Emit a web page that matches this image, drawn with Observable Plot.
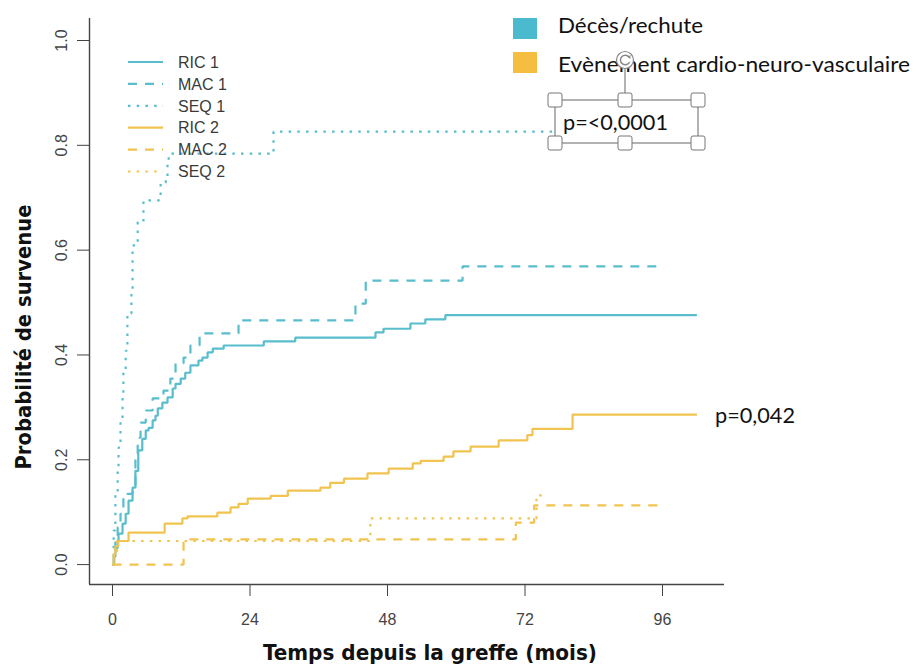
<!DOCTYPE html>
<html><head><meta charset="utf-8">
<script src="https://cdn.jsdelivr.net/npm/d3@7"></script>
<script src="https://cdn.jsdelivr.net/npm/@observablehq/plot@0.6"></script>
<style>
body{margin:0;background:#fff;}
#chart{width:917px;height:666px;}
</style></head><body><div id="chart"></div>
<script>
// ---------- data ----------
const xTicks = [0, 24, 48, 72, 96];
const yTicks = [0, 0.2, 0.4, 0.6, 0.8, 1.0];
const seriesNames = ["RIC 1", "MAC 1", "SEQ 1", "RIC 2", "MAC 2", "SEQ 2"];
const groupNames = ["Décès/rechute", "Evènement cardio-neuro-vasculaire"];
const pValueTexts = ["p=<0,0001", "p=0,042"];

const ric1Time = [0, 0.3, 0.5, 0.9, 1.05, 1.75, 2.3, 2.8, 3.5, 4.0, 4.5, 5.2, 5.8, 6.3, 7.0, 7.5, 7.9, 8.7, 9.6, 10.5, 11.0, 11.9, 12.7, 13.6, 15.0, 15.7, 16.6, 17.5, 19.4, 26.4, 31.9, 45.9, 47.3, 52.0, 54.6, 58.1, 102];
const ric1Prob = [0, 0.015, 0.032, 0.046, 0.059, 0.078, 0.097, 0.122, 0.147, 0.179, 0.218, 0.240, 0.256, 0.261, 0.275, 0.284, 0.298, 0.309, 0.319, 0.336, 0.345, 0.355, 0.366, 0.380, 0.389, 0.395, 0.405, 0.412, 0.418, 0.426, 0.433, 0.443, 0.450, 0.460, 0.468, 0.476, 0.476];

const mac1Time = [0, 0.2, 0.5, 0.9, 1.4, 1.9, 2.6, 3.5, 4.0, 4.4, 4.9, 5.8, 7.0, 8.9, 10.1, 11.0, 12.4, 13.6, 15.2, 22.0, 42.4, 44.2, 61.1, 96.2];
const mac1Prob = [0, 0.017, 0.046, 0.071, 0.097, 0.126, 0.135, 0.147, 0.204, 0.242, 0.271, 0.294, 0.317, 0.332, 0.355, 0.384, 0.395, 0.418, 0.441, 0.466, 0.498, 0.542, 0.569, 0.569];

const seq1Time = [0, 0.2, 0.5, 0.9, 1.05, 1.4, 1.75, 1.9, 2.3, 2.6, 3.3, 3.5, 4.4, 5.4, 8.4, 9.3, 9.6, 9.8, 28.1, 78];
const seq1Prob = [0, 0.065, 0.135, 0.179, 0.223, 0.275, 0.319, 0.370, 0.408, 0.479, 0.523, 0.609, 0.653, 0.695, 0.729, 0.739, 0.771, 0.784, 0.826, 0.826];

const ric2Time = [0, 0.2, 0.5, 1.0, 2.8, 9.1, 12.2, 13.1, 18.3, 20.6, 22.0, 23.6, 27.6, 30.6, 36.3, 38.0, 40.4, 44.5, 48.2, 52.4, 53.8, 57.8, 59.5, 62.5, 67.4, 72.4, 73.3, 80.3, 102];
const ric2Prob = [0, 0.02, 0.035, 0.045, 0.061, 0.078, 0.088, 0.092, 0.099, 0.109, 0.116, 0.126, 0.131, 0.141, 0.147, 0.156, 0.164, 0.174, 0.183, 0.193, 0.198, 0.206, 0.216, 0.225, 0.237, 0.247, 0.259, 0.286, 0.286];

const mac2Time = [0, 12.4, 70.4, 73.6, 96.2];
const mac2Prob = [0, 0.048, 0.080, 0.113, 0.113];

const seq2Time = [0, 0.3, 0.8, 45.0, 74.0, 76.0];
const seq2Prob = [0, 0.02, 0.045, 0.088, 0.132, 0.132];

// ---------- build ----------
const seriesTimes = [ric1Time, mac1Time, seq1Time, ric2Time, mac2Time, seq2Time];
const seriesProbs = [ric1Prob, mac1Prob, seq1Prob, ric2Prob, mac2Prob, seq2Prob];
const rows = seriesNames.flatMap((name, k) => seriesTimes[k].map((t, i) => ({series: name, t, p: seriesProbs[k][i]})));

const W = 917, H = 666;
const xDomain = [-4.015, 106.82];
const yDomain = [-0.038, 1.042];
const teal = "#58BDCC", gold = "#F1C34F";
const tealBox = "#4BB9CE", goldBox = "#F6BE41";
const colorOf = name => name.endsWith("1") ? teal : gold;
const dashOf = name => name.startsWith("MAC") ? "9,8" : name.startsWith("SEQ") ? "2.5,6.2" : undefined;

const plot = Plot.plot({
  width: W, height: H,
  marginLeft: 89, marginRight: 193, marginTop: 18, marginBottom: 82,
  x: {domain: xDomain},
  y: {domain: yDomain},
  style: {fontFamily: "'Liberation Sans', Arial, sans-serif", fontSize: "16px", color: "#444", background: "#fff", overflow: "visible"},
  marks: [
    Plot.ruleX([xDomain[0]], {stroke: "#444", strokeWidth: 1.4}),
    Plot.ruleY([yDomain[0]], {stroke: "#444", strokeWidth: 1.4}),
    Plot.axisX(xTicks, {tickSize: 12, tickPadding: 17, label: null}),
    Plot.axisY(yTicks, {tickSize: 12, tickPadding: 11, tickRotate: -90, tickFormat: d => d.toFixed(1), label: null}),
    ...seriesNames.map(name => Plot.line(rows.filter(r => r.series === name), {
      x: "t", y: "p", curve: "step-after",
      stroke: colorOf(name), strokeWidth: 2.2,
      strokeDasharray: dashOf(name),
      strokeLinecap: "butt", strokeLinejoin: "miter"
    }))
  ]
});
document.getElementById("chart").appendChild(plot);

// ---------- annotations ----------
const svg = d3.select(plot);
const narrow = "'Liberation Sans Narrow','DejaVu Sans Condensed','Liberation Sans',sans-serif";
const human = "Lato,'Open Sans',sans-serif";

svg.append("text")
  .attr("x", 430).attr("y", 660).attr("text-anchor", "middle")
  .attr("font-family", narrow).attr("font-weight", "bold").attr("font-size", 22)
  .attr("fill", "#111").attr("textLength", 334).attr("lengthAdjust", "spacingAndGlyphs")
  .text("Temps depuis la greffe (mois)");

svg.append("text")
  .attr("transform", "translate(31,337) rotate(-90)").attr("text-anchor", "middle")
  .attr("font-family", narrow).attr("font-weight", "bold").attr("font-size", 22)
  .attr("fill", "#111").attr("textLength", 265).attr("lengthAdjust", "spacingAndGlyphs")
  .text("Probabilité de survenue");

// inner legend
const lg = svg.append("g").attr("text-anchor", "start");
seriesNames.forEach((name, i) => {
  const y = 62 + i * 21.9;
  lg.append("line").attr("x1", 128).attr("x2", 163).attr("y1", y).attr("y2", y)
    .attr("stroke", colorOf(name)).attr("stroke-width", 2.2)
    .attr("stroke-dasharray", dashOf(name) || null);
  lg.append("text").attr("x", 178).attr("y", y).attr("dy", "0.36em").attr("text-anchor", "start")
    .attr("font-family", "'Liberation Sans', Arial, sans-serif").attr("font-size", 16)
    .attr("fill", "#3a3a3a").text(name);
});

// top-right group legend
const gl = svg.append("g").attr("text-anchor", "start");
[[tealBox, 18, 33], [goldBox, 52, 72]].forEach(([c, y0, base], i) => {
  gl.append("rect").attr("x", 513).attr("y", y0).attr("width", 24).attr("height", 21).attr("fill", c);
  gl.append("text").attr("x", 558).attr("y", base).attr("text-anchor", "start")
    .attr("font-family", human).attr("font-size", 21).attr("fill", "#111")
    .attr("textLength", i === 0 ? 145 : 352).attr("lengthAdjust", "spacingAndGlyphs")
    .text(groupNames[i]);
});

// selected text box with handles
const sb = svg.append("g").attr("text-anchor", "start");
sb.append("rect").attr("x", 555).attr("y", 100).attr("width", 143).attr("height", 43)
  .attr("fill", "#fff").attr("stroke", "#666").attr("stroke-width", 1);
sb.append("line").attr("x1", 625).attr("x2", 625).attr("y1", 68).attr("y2", 100).attr("stroke", "#666");
sb.append("circle").attr("cx", 625).attr("cy", 60).attr("r", 8.5).attr("fill", "#fff").attr("stroke", "#888").attr("stroke-width", 1.2);
sb.append("path").attr("d", "M629.2,57.2 A4.8,4.8 0 1 0 629.6,62").attr("fill", "none").attr("stroke", "#888").attr("stroke-width", 1.5);
sb.append("path").attr("d", "M627,56.5 L630.5,55.2 L630.3,59 Z").attr("fill", "#888");
[[555,100],[625,100],[698,100],[555,143],[625,143],[698,143]].forEach(([cx, cy]) => {
  sb.append("rect").attr("x", cx - 7).attr("y", cy - 7).attr("width", 14).attr("height", 14).attr("rx", 2)
    .attr("fill", "#fff").attr("stroke", "#777").attr("stroke-width", 1);
});
sb.append("text").attr("x", 563).attr("y", 130).attr("text-anchor", "start")
  .attr("font-family", human).attr("font-size", 21).attr("fill", "#111")
  .attr("textLength", 105).attr("lengthAdjust", "spacingAndGlyphs").text(pValueTexts[0]);

svg.append("text").attr("x", 715).attr("y", 423).attr("text-anchor", "start")
  .attr("font-family", human).attr("font-size", 21).attr("fill", "#111")
  .attr("textLength", 80).attr("lengthAdjust", "spacingAndGlyphs").text(pValueTexts[1]);
</script>
</body></html>
